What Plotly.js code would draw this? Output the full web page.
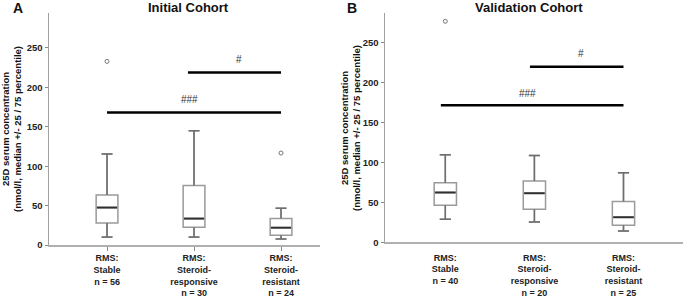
<!DOCTYPE html>
<html><head><meta charset="utf-8">
<script src="https://cdn.plot.ly/plotly-3.0.1.min.js"></script>
<style>html,body{margin:0;padding:0;background:#fff}#c{width:685px;height:297px}</style>
</head><body><div id="c"></div>
<script>
// ---- data ----
const labelsA = ["RMS:<br>Stable<br>n = 56", "RMS:<br>Steroid-<br>responsive<br>n = 30", "RMS:<br>Steroid-<br>resistant<br>n = 24"];
const labelsB = ["RMS:<br>Stable<br>n = 40", "RMS:<br>Steroid-<br>responsive<br>n = 20", "RMS:<br>Steroid-<br>resistant<br>n = 25"];
const lowA = [10, 10, 7.6];
const q1A = [28, 22.5, 12.3];
const medA = [47.5, 33.5, 22];
const q3A = [63.6, 75.5, 33.5];
const highA = [115.5, 145, 46.7];
const outXA = [0, 2];
const outYA = [233, 116.7];
const lowB = [28.8, 25.4, 14.2];
const q1B = [46.3, 41.5, 21.3];
const medB = [62.5, 61.5, 31.4];
const q3B = [74.7, 76.7, 51];
const highB = [109.6, 108.8, 87.1];
const outXB = [0];
const outYB = [276.8];
// significance bars: [from category, to category, y, label, label y]
const sigA = [[0, 2, 168, "###", 185], [0.93, 2, 219, "#", 235]];
const sigB = [[-0.05, 2, 171.5, "###", 187], [0.95, 2, 220, "#", 236.7]];
const yTitle = "25D serum concentration<br>(nmol/l, median +/- 25 / 75 percentile)";

const FONT = "Liberation Sans, Arial, sans-serif";
const BW = 0.25;
const traces = [];
function panel(xa, ya, low, q1, med, q3, high, outX, outY, sig) {
  const idx = [0, 1, 2];
  traces.push({type: "box", x: idx, q1: q1, median: med, q3: q3, lowerfence: low, upperfence: high,
    xaxis: xa, yaxis: ya, width: BW, whiskerwidth: 0.5, fillcolor: "#ffffff",
    line: {color: "#9a9a9a", width: 1.5}, boxpoints: false, hoverinfo: "skip", showlegend: false});
  // whiskers overlay (darker)
  const wx = [], wy = [];
  idx.forEach(i => {
    wx.push(i, i, null, i - BW / 4, i + BW / 4, null, i, i, null, i - BW / 4, i + BW / 4, null);
    wy.push(q3[i], high[i], null, high[i], high[i], null, q1[i], low[i], null, low[i], low[i], null);
  });
  traces.push({type: "scatter", mode: "lines", x: wx, y: wy, xaxis: xa, yaxis: ya,
    line: {color: "#6e6e6e", width: 1.5}, hoverinfo: "skip", showlegend: false});
  // median overlay
  const mx = [], my = [];
  idx.forEach(i => { mx.push(i - BW / 2 + 0.01, i + BW / 2 - 0.01, null); my.push(med[i], med[i], null); });
  traces.push({type: "scatter", mode: "lines", x: mx, y: my, xaxis: xa, yaxis: ya,
    line: {color: "#303030", width: 2}, hoverinfo: "skip", showlegend: false});
  // outliers
  traces.push({type: "scatter", mode: "markers", x: outX, y: outY, xaxis: xa, yaxis: ya,
    marker: {symbol: "circle-open", size: 4, color: "#777", line: {width: 1}}, hoverinfo: "skip", showlegend: false});
  // significance bars
  sig.forEach(s => {
    traces.push({type: "scatter", mode: "lines", x: [s[0], s[1]], y: [s[2], s[2]], xaxis: xa, yaxis: ya,
      line: {color: "#000", width: 2.5}, hoverinfo: "skip", showlegend: false});
  });
}
panel("x", "y", lowA, q1A, medA, q3A, highA, outXA, outYA, sigA);
panel("x2", "y2", lowB, q1B, medB, q3B, highB, outXB, outYB, sigB);

const W = 685, H = 297;
const tickFont = {family: FONT, size: 9, color: "#222", weight: "bold"};
function xAxis(dom, range, labels, anchor, tickcol, standoff) {
  return {domain: dom, range: range, anchor: anchor, tickvals: [0, 1, 2], ticktext: labels,
    showgrid: false, zeroline: false, showline: true, linecolor: "#b0b0b0", linewidth: 1.5,
    ticks: "outside", ticklen: 4, tickcolor: tickcol, ticklabelstandoff: standoff,
    tickfont: tickFont, fixedrange: true};
}
function yAxis(dom, range, anchor) {
  return {domain: dom, range: range, anchor: anchor, tickvals: [0, 50, 100, 150, 200, 250],
    showgrid: false, zeroline: false, showline: true, linecolor: "#a0a0a0", linewidth: 1.5,
    ticks: "outside", ticklen: 3, tickcolor: "#888",
    tickfont: {family: FONT, size: 9.5, color: "#222", weight: "bold"}, fixedrange: true};
}
const annotations = [];
function addSig(sig, xr, yr) {
  sig.forEach(s => annotations.push({xref: xr, yref: yr, x: (s[0] + s[1]) / 2 + (s[3] === "#" ? 0.05 : -0.05), y: s[4], text: s[3],
    showarrow: false, font: {family: FONT, size: 10, color: "#333"}}));
}
addSig(sigA, "x", "y");
addSig(sigB, "x2", "y2");
function pt(px, py, text, size, angle) {
  annotations.push({xref: "paper", yref: "paper", x: px / W, y: 1 - py / H, text: text, showarrow: false,
    font: {family: FONT, size: size, color: "#111"}, textangle: angle || 0, xanchor: "center", yanchor: "middle"});
}
pt(188, 8, "<b>Initial Cohort</b>", 13);
pt(529, 8, "<b>Validation Cohort</b>", 13);
pt(18, 8, "<b>A</b>", 14);
pt(352, 8, "<b>B</b>", 14);
pt(11, 129, "<b>" + yTitle.replace("<br>", "</b><br><b>") + "</b>", 9.5, -90);
pt(350, 128, "<b>" + yTitle.replace("<br>", "</b><br><b>") + "</b>", 9.5, -90);

const layout = {
  width: W, height: H, margin: {l: 0, r: 0, t: 0, b: 0}, paper_bgcolor: "#fff", plot_bgcolor: "#fff",
  font: {family: FONT}, showlegend: false,
  xaxis: xAxis([49 / W, 320 / W], [-0.667, 2.448], labelsA, "y", "#888", 0),
  yaxis: yAxis([(H - 245) / H, (H - 13) / H], [0, 294.4], "x"),
  xaxis2: xAxis([385 / W, 683 / W], [-0.677, 2.668], labelsB, "y2", "rgba(0,0,0,0)", 2),
  yaxis2: yAxis([(H - 242.3) / H, (H - 13) / H], [0, 287.2], "x2"),
  annotations: annotations
};
Plotly.newPlot("c", traces, layout, {displayModeBar: false, staticPlot: true});
</script></body></html>
